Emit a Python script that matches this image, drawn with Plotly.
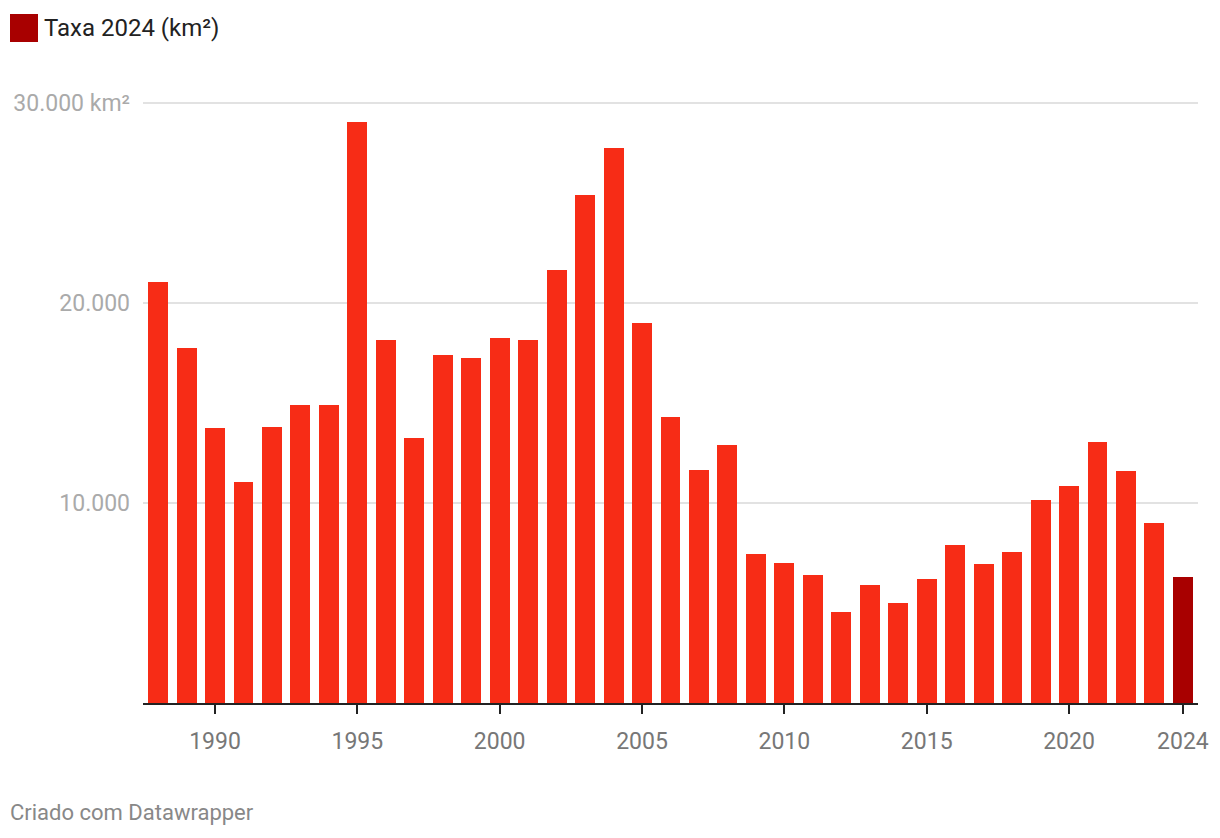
import plotly.graph_objects as go

years = list(range(1988, 2025))
taxa = [21050, 17770, 13730, 11030, 13786, 14896, 14896, 29059, 18161, 13227,
        17383, 17259, 18226, 18165, 21651, 25396, 27772, 19014, 14286, 11651,
        12911, 7464, 7000, 6418, 4571, 5891, 5012, 6207, 7893, 6947,
        7536, 10129, 10851, 13038, 11594, 9001, 6288]

x_ticks = [1990, 1995, 2000, 2005, 2010, 2015, 2020, 2024]
y_ticks = [10000, 20000, 30000]
y_labels = ["10.000", "20.000", "30.000 km²"]
legend_label = "Taxa 2024 (km²)"
credit = "Criado com Datawrapper"

W, H = 1220, 838
L, R, T, B = 143, 22, 83, 135
FONT = "Roboto, Arial, sans-serif"


def px(x):
    return (x - L) / (W - L - R)


def py(y):
    return (H - B - y) / (H - T - B)


bar_colors = ["#f72c16"] * (len(years) - 1) + ["#a80000"]

fig = go.Figure()
fig.add_trace(
    go.Bar(
        x=years,
        y=taxa,
        width=0.7,
        marker={"color": bar_colors, "line": {"width": 0}},
        showlegend=False,
        hoverinfo="x+y",
    )
)

# legend swatch + label (datawrapper style)
fig.add_shape(type="rect", xref="paper", yref="paper",
              x0=px(10), x1=px(38), y0=py(42), y1=py(14),
              fillcolor="#a80000", line={"width": 0})
fig.add_annotation(xref="paper", yref="paper", x=px(42), y=py(28),
                   text=legend_label, showarrow=False, xanchor="left", yanchor="middle",
                   font={"family": FONT, "size": 24, "color": "#222222"})
fig.add_annotation(xref="paper", yref="paper", x=px(8), y=py(812),
                   text=credit, showarrow=False, xanchor="left", yanchor="middle",
                   font={"family": FONT, "size": 22, "color": "#888888"})

fig.update_layout(
    width=W,
    height=H,
    margin={"l": L, "r": R, "t": T, "b": B, "pad": 0},
    paper_bgcolor="white",
    plot_bgcolor="white",
    bargap=0,
    font={"family": FONT},
)
fig.update_xaxes(
    range=[1987.47, 2024.53],
    tickvals=x_ticks,
    ticks="outside",
    ticklen=9,
    tickwidth=2,
    tickcolor="#222222",
    ticklabelstandoff=7,
    showline=True,
    linecolor="#222222",
    linewidth=2,
    showgrid=False,
    zeroline=False,
    tickfont={"family": FONT, "size": 23, "color": "#777777"},
)
fig.update_yaxes(
    range=[0, 31000],
    tickvals=y_ticks,
    ticktext=y_labels,
    ticks="",
    ticklabelstandoff=12,
    showgrid=True,
    gridcolor="#e2e2e2",
    gridwidth=1.5,
    zeroline=False,
    showline=False,
    tickfont={"family": FONT, "size": 23, "color": "#aaaaaa"},
)

fig.write_html("out.html", config={"displayModeBar": False},
               post_script="document.body.style.margin='0';")
